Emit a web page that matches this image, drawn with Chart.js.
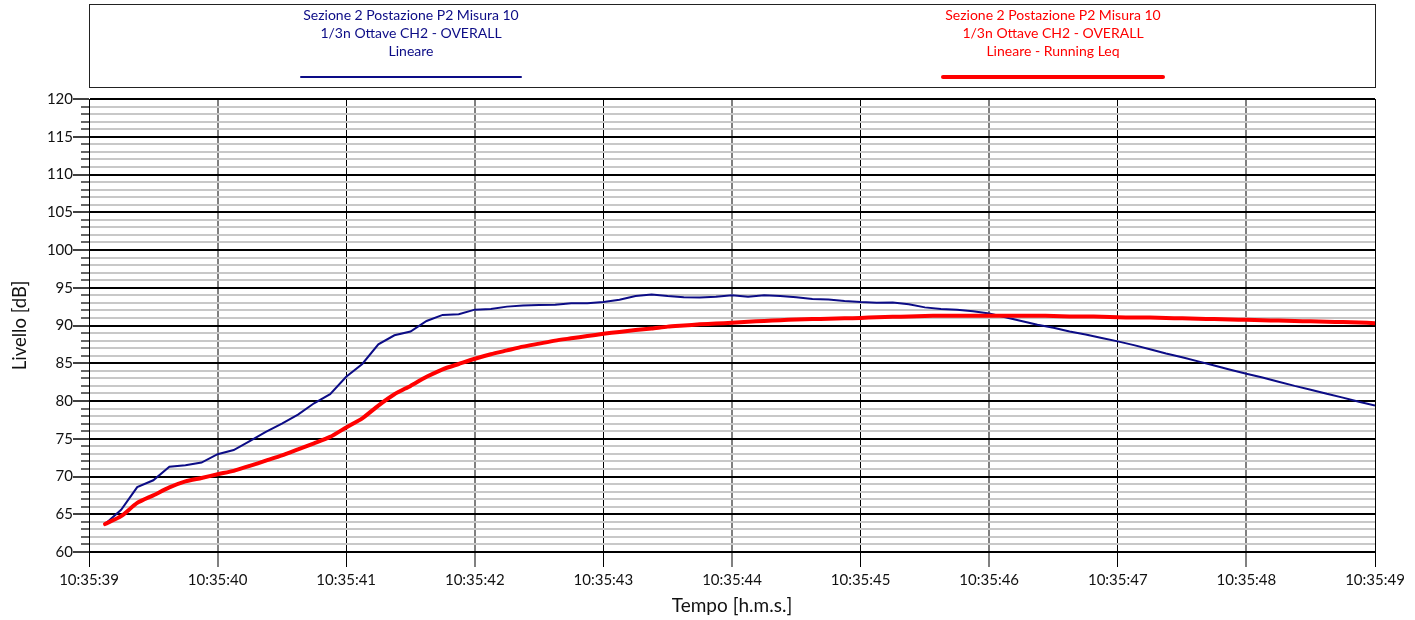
<!DOCTYPE html>
<html>
<head>
<meta charset="utf-8">
<script src="https://cdn.jsdelivr.net/npm/chart.js@4/dist/chart.umd.min.js"></script>
<style>
html,body{margin:0;padding:0;background:#fff;}
#wrap{width:1415px;height:620px;position:relative;}
</style>
</head>
<body>
<div id="wrap"><canvas id="c" width="1415" height="620"></canvas></div>
<script>
// Sample times in seconds after 10:35:00 (one sample every 1/8 s)
const times = [
 39.125,39.25,39.375,39.5,39.625,39.75,39.875,40.0,
 40.125,40.25,40.375,40.5,40.625,40.75,40.875,41.0,
 41.125,41.25,41.375,41.5,41.625,41.75,41.875,42.0,
 42.125,42.25,42.375,42.5,42.625,42.75,42.875,43.0,
 43.125,43.25,43.375,43.5,43.625,43.75,43.875,44.0,
 44.125,44.25,44.375,44.5,44.625,44.75,44.875,45.0,
 45.125,45.25,45.375,45.5,45.625,45.75,45.875,46.0,
 46.125,46.25,46.375,46.5,46.625,46.75,46.875,47.0,
 47.125,47.25,47.375,47.5,47.625,47.75,47.875,48.0,
 48.125,48.25,48.375,48.5,48.625,48.75,48.875,49.0
];
// Lineare (blue)
const lineare = [
 63.7,65.6,68.6,69.5,71.3,71.5,71.85,72.95,
 73.5,74.7,75.9,77.0,78.2,79.7,80.9,83.2,
 84.9,87.5,88.7,89.2,90.6,91.4,91.5,92.1,
 92.2,92.5,92.65,92.7,92.75,92.95,92.95,93.1,
 93.4,93.9,94.1,93.9,93.75,93.7,93.8,94.0,
 93.8,94.0,93.9,93.75,93.5,93.45,93.25,93.1,
 93.0,93.05,92.8,92.4,92.2,92.1,91.9,91.6,
 91.1,90.6,90.1,89.7,89.2,88.8,88.35,87.9,
 87.4,86.85,86.3,85.8,85.25,84.7,84.15,83.6,
 83.1,82.55,82.0,81.5,80.95,80.45,79.9,79.4
];
// Lineare - Running Leq (red)
const runningLeq = [
 63.7,64.75,66.5,67.5,68.55,69.35,69.8,70.3,
 70.75,71.4,72.1,72.8,73.6,74.4,75.25,76.5,
 77.7,79.4,80.9,82.0,83.2,84.2,84.9,85.6,
 86.2,86.7,87.2,87.6,88.0,88.3,88.6,88.9,
 89.15,89.4,89.6,89.85,90.0,90.15,90.25,90.35,
 90.5,90.6,90.7,90.8,90.85,90.9,90.95,91.0,
 91.1,91.15,91.2,91.25,91.3,91.3,91.3,91.3,
 91.3,91.3,91.3,91.25,91.2,91.2,91.15,91.1,
 91.05,91.05,91.0,90.95,90.9,90.85,90.8,90.75,
 90.7,90.65,90.6,90.55,90.5,90.45,90.4,90.3
];
const legendBlue = ["Sezione 2 Postazione P2 Misura 10","1/3n Ottave CH2 - OVERALL","Lineare"];
const legendRed = ["Sezione 2 Postazione P2 Misura 10","1/3n Ottave CH2 - OVERALL","Lineare - Running Leq"];
const timePrefix = "10:35:";
const xTitle = "Tempo [h.m.s.]";
const yTitle = "Livello [dB]";

const FONT = "Lato, 'Open Sans', sans-serif";
const BLUE = "#0c0c86";
const RED = "#ff0000";

const legendPlugin = {
  id: 'legendBox',
  afterDraw(chart) {
    const ctx = chart.ctx;
    const area = chart.chartArea;
    ctx.save();
    // legend frame
    ctx.strokeStyle = '#222';
    ctx.lineWidth = 1;
    ctx.strokeRect(area.left + 0.5, 4.5, area.right - area.left, 83);
    const drawItem = (lines, color, cx, lw) => {
      ctx.fillStyle = color;
      ctx.font = "14px " + FONT;
      ctx.textAlign = 'center';
      ctx.textBaseline = 'middle';
      const ys = [15, 33, 51];
      lines.forEach((t, i) => ctx.fillText(t, cx, ys[i]));
      ctx.strokeStyle = color;
      ctx.lineWidth = lw;
      ctx.lineCap = 'round';
      ctx.beginPath();
      ctx.moveTo(cx - 110, 77);
      ctx.lineTo(cx + 110, 77);
      ctx.stroke();
    };
    drawItem(legendBlue, BLUE, 411, 2);
    drawItem(legendRed, RED, 1053, 4);
    // y-axis tick marks (long at 5 dB, short at 1 dB)
    const ys = chart.scales.y;
    ys.ticks.forEach(tk => {
      const py = Math.round(ys.getPixelForValue(tk.value));
      const major = tk.value % 5 === 0;
      ctx.strokeStyle = major ? '#000' : '#333';
      ctx.lineWidth = 1.5;
      ctx.lineCap = 'butt';
      ctx.beginPath();
      ctx.moveTo(area.left - (major ? 16 : 8), py);
      ctx.lineTo(area.left, py);
      ctx.stroke();
    });
    ctx.restore();
  }
};

const toPts = arr => times.map((t, i) => ({x: t, y: arr[i]}));

new Chart(document.getElementById('c'), {
  type: 'line',
  data: {
    datasets: [
      {label: legendBlue.join(' '), data: toPts(lineare), borderColor: BLUE, borderWidth: 2, pointRadius: 0, tension: 0, order: 2},
      {label: legendRed.join(' '), data: toPts(runningLeq), borderColor: RED, borderWidth: 4, pointRadius: 0, tension: 0.2, borderCapStyle: 'round', order: 1}
    ]
  },
  options: {
    responsive: false,
    animation: false,
    layout: {padding: {top: 99, right: 40, bottom: 0, left: 0}},
    plugins: {legend: {display: false}, tooltip: {enabled: false}},
    scales: {
      x: {
        type: 'linear', min: 39, max: 49,
        afterFit(s) { s.height = 68; },
        ticks: {stepSize: 1, maxRotation: 0, autoSkip: false, padding: 4, color: '#111',
          font: {family: FONT, size: 15},
          callback: v => timePrefix + String(v).padStart(2, '0')},
        grid: {
          color: c => (c.tick && c.tick.value % 2 === 0) ? '#808080' : '#000',
          lineWidth: c => (c.tick && c.tick.value % 2 === 0) ? 2 : 1,
          tickColor: c => (c.tick && c.tick.value % 2 === 0) ? '#808080' : '#000',
          tickLength: 15, drawTicks: true
        },
        border: {display: false},
        title: {display: true, text: xTitle, color: '#111', font: {family: FONT, size: 19}, padding: {top: 0, bottom: 3}}
      },
      y: {
        min: 60, max: 120,
        afterFit(s) { s.width = 89; },
        ticks: {stepSize: 1, autoSkip: false, padding: 16, color: '#111',
          font: {family: FONT, size: 15},
          callback: v => (v % 5 === 0 ? String(v) : '')},
        grid: {
          color: c => (c.tick && c.tick.value % 5 === 0) ? '#000' : '#c8c8c8',
          lineWidth: 2,
          drawTicks: false
        },
        border: {display: true, color: '#000', width: 1},
        title: {display: true, text: yTitle, color: '#111', font: {family: FONT, size: 18.5}, padding: {top: 9, bottom: 0}}
      }
    }
  },
  plugins: [legendPlugin]
});
</script>
</body>
</html>
